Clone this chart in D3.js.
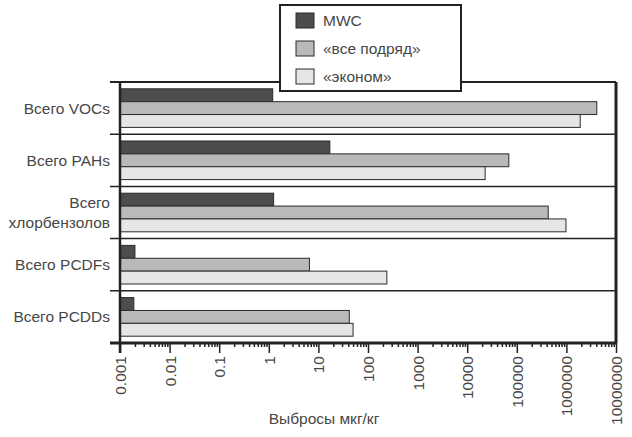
<!DOCTYPE html>
<html lang="ru">
<head>
<meta charset="UTF-8">
<title>Выбросы</title>
<script src="https://d3js.org/d3.v7.min.js"></script>
<style>
body{margin:0; background:#fff;}
svg text{font-family:"Liberation Sans", Arial, sans-serif; fill:#474747;}
</style>
</head>
<body>
<div class="chart"></div>
<script>
// data
var categories = ["Всего VOCs", "Всего PAHs", "Всего\nхлорбензолов", "Всего PCDFs", "Всего PCDDs"];
var seriesNames = ["MWC", "«все подряд»", "«эконом»"];
var mwc     = [1.2, 17, 1.25, 0.002, 0.0019];
var vsePodr = [4100000, 69000, 430000, 6.6, 42];
var ekonom  = [1900000, 23000, 980000, 240, 50];
var tickValues = [0.001, 0.01, 0.1, 1, 10, 100, 1000, 10000, 100000, 1000000, 10000000];
var tickLabels = ["0.001", "0.01", "0.1", "1", "10", "100", "1000", "10000", "100000", "1000000", "10000000"];
var colors = ["#4d4d4d", "#b9b9b9", "#e6e6e6"];

var w = 632, h = 437;
var pLeft = 120, pRight = 616, pTop = 82, pBottom = 343;
var fs = 15.5;

var svg = d3.select(".chart").append("svg")
	.attr("width", w)
	.attr("height", h);

var x = d3.scaleLog().domain([0.001, 10000000]).range([pLeft, pRight]);
var y = d3.scaleBand().domain(d3.range(categories.length)).range([pTop, pBottom]);
var ySub = d3.scaleBand().domain(d3.range(seriesNames.length)).range([6.8, y.bandwidth() - 6.8]);

var series = [mwc, vsePodr, ekonom];

// separators between categories
svg.selectAll("line.sep")
	.data(d3.range(1, categories.length))
	.enter()
	.append("line")
	.attr("x1", pLeft - 10)
	.attr("x2", pRight)
	.attr("y1", function(d){ return y(d); })
	.attr("y2", function(d){ return y(d); })
	.attr("stroke", "#222")
	.attr("stroke-width", 1.5);

// bars
var groups = svg.selectAll("g.cat")
	.data(categories)
	.enter()
	.append("g")
	.attr("transform", function(d, i){ return "translate(0," + y(i) + ")"; });

groups.selectAll("rect")
	.data(function(d, i){ return series.map(function(s, j){ return {v: s[i], j: j}; }); })
	.enter()
	.append("rect")
	.attr("x", pLeft)
	.attr("y", function(d){ return ySub(d.j); })
	.attr("width", function(d){ return x(d.v) - pLeft; })
	.attr("height", ySub.bandwidth())
	.attr("fill", function(d){ return colors[d.j]; })
	.attr("stroke", "#2b2b2b")
	.attr("stroke-width", 1);

// frame
svg.append("line").attr("x1", pLeft - 10).attr("x2", pRight).attr("y1", pTop).attr("y2", pTop)
	.attr("stroke", "#222").attr("stroke-width", 2);
svg.append("line").attr("x1", pRight).attr("x2", pRight).attr("y1", pTop).attr("y2", pBottom)
	.attr("stroke", "#222").attr("stroke-width", 3);
svg.append("line").attr("x1", pLeft).attr("x2", pLeft).attr("y1", pTop).attr("y2", pBottom + 10)
	.attr("stroke", "#222").attr("stroke-width", 2.5);

// x axis
var minor = [];
tickValues.slice(0, -1).forEach(function(t){
	for (var k = 2; k < 10; k++) minor.push(t * k);
});
var xAxisMinor = d3.axisBottom(x).tickValues(minor).tickSize(4).tickFormat("");
svg.append("g").attr("transform", "translate(0," + pBottom + ")").call(xAxisMinor)
	.call(function(g){ g.select(".domain").remove(); })
	.selectAll("line").attr("stroke", "#222").attr("stroke-width", 1.5);

var xAxis = d3.axisBottom(x).tickValues(tickValues).tickSize(10)
	.tickFormat(function(d, i){ return tickLabels[i]; });
var gx = svg.append("g").attr("transform", "translate(0," + pBottom + ")").call(xAxis);
gx.select(".domain").attr("d", "M" + (pLeft - 10) + ",0H" + pRight).attr("stroke", "#222").attr("stroke-width", 3);
gx.selectAll(".tick line").attr("stroke", "#222").attr("stroke-width", 1.5);
gx.selectAll(".tick text")
	.attr("transform", "rotate(-90)")
	.attr("x", -13)
	.attr("y", 0)
	.attr("dy", "0.35em")
	.attr("text-anchor", "end")
	.attr("font-size", fs)
	.attr("fill", "#474747");

svg.append("text")
	.attr("x", 324)
	.attr("y", 424)
	.attr("text-anchor", "middle")
	.attr("font-size", fs)
	.text("Выбросы мкг/кг");

// category labels
svg.selectAll("text.cat")
	.data(categories)
	.enter()
	.append("text")
	.attr("class", "cat")
	.attr("text-anchor", "end")
	.attr("font-size", fs)
	.each(function(d, i){
		var lines = d.split("\n");
		var cy = y(i) + y.bandwidth() / 2;
		d3.select(this).selectAll("tspan")
			.data(lines)
			.enter()
			.append("tspan")
			.attr("x", 110)
			.attr("y", function(l, k){ return cy + (k - (lines.length - 1) / 2) * 20; })
			.attr("dy", "0.35em")
			.text(function(l){ return l; });
	});

// legend
var legend = svg.append("g");
legend.append("rect")
	.attr("x", 280).attr("y", 5).attr("width", 181).attr("height", 86)
	.attr("fill", "#fff").attr("stroke", "#222").attr("stroke-width", 2);
var items = legend.selectAll("g.item")
	.data(seriesNames)
	.enter()
	.append("g")
	.attr("transform", function(d, i){ return "translate(296," + (13 + i * 28) + ")"; });
items.append("rect")
	.attr("width", 18).attr("height", 15)
	.attr("fill", function(d, i){ return colors[i]; })
	.attr("stroke", "#2b2b2b");
items.append("text")
	.attr("x", 27).attr("y", 7.5).attr("dy", "0.35em")
	.attr("font-size", fs)
	.text(function(d){ return d; });
</script>
</body>
</html>
